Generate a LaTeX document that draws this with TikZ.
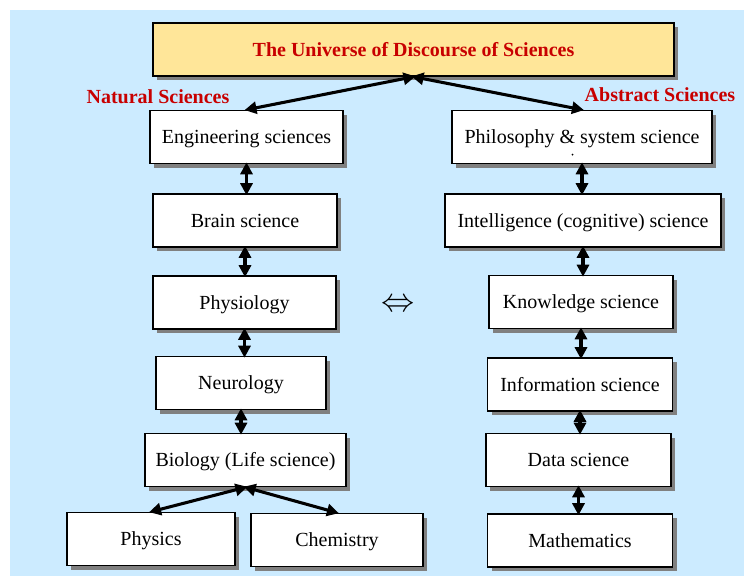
\documentclass[tikz,border=0pt]{standalone}
\usepackage{fontspec}
\setmainfont{Liberation Serif}
\usetikzlibrary{arrows.meta,shadows}

\definecolor{bgblue}{RGB}{204,235,255}
\definecolor{titleyellow}{RGB}{255,230,153}
\definecolor{labelred}{RGB}{200,0,0}
\definecolor{shadowgray}{RGB}{128,128,128}

\tikzset{every picture/.style={line width=0.75pt}}
\tikzset{
  scibox/.style={draw=black, fill=white, line width=1.2pt, minimum height=39.75pt,
    inner sep=0pt, text height=12pt, text depth=1.7pt, font=\fontsize{15}{18}\selectfont,
    drop shadow={shadow xshift=3pt, shadow yshift=-3pt, fill=shadowgray, opacity=1}},
  titlebox/.style={scibox, fill=titleyellow, text=labelred, font=\fontsize{15}{18}\selectfont\bfseries},
  sidelabel/.style={text=labelred, font=\fontsize{15}{18}\selectfont\bfseries, inner sep=0pt},
  dbl/.style={{Triangle[length=9pt,width=9pt]}-{Triangle[length=9pt,width=9pt]}, line width=2.3pt,
    shorten <=-1.5pt, shorten >=-1.5pt}
}

\begin{document}
\begin{tikzpicture}[x=0.75pt,y=0.75pt,yscale=-1,xscale=1]
\useasboundingbox (0,0) rectangle (744,576);
%Background
\fill [bgblue] (10,10) rectangle (744,576);

%Title and side labels
\node [titlebox, minimum width=390.75pt] (univ) at (413.5,49.5) {The Universe of Discourse of Sciences};
\node [sidelabel] (natural) at (158,97) {Natural Sciences};
\node [sidelabel] (abstract) at (660,95) {Abstract Sciences};

%Left column
\node [scibox, minimum width=144.75pt] (eng) at (246.5,137) {Engineering sciences};
\node [scibox, minimum width=138pt] (brain) at (245,220.5) {Brain science};
\node [scibox, minimum width=137.25pt] (physio) at (244.5,302.5) {Physiology};
\node [scibox, minimum width=127.5pt] (neuro) at (241,383) {Neurology};
\node [scibox, minimum width=150.75pt] (bio) at (245.5,460) {Biology (Life science)};
\node [scibox, minimum width=126pt] (physics) at (151,539) {Physics};
\node [scibox, minimum width=129pt] (chem) at (337,540) {Chemistry};

%Right column
\node [scibox, minimum width=195pt] (philo) at (582,137) {Philosophy \& system science};
\node [scibox, minimum width=207pt] (intel) at (583,220.5) {Intelligence (cognitive) science};
\node [scibox, minimum width=138pt] (know) at (581,302) {Knowledge science};
\node [scibox, minimum width=138.75pt] (info) at (580,384.5) {Information science};
\node [scibox, minimum width=138.75pt] (data) at (578.5,460) {Data science};
\node [scibox, minimum width=138.75pt] (math) at (580,540.5) {Mathematics};
\fill (572.5,154.5) circle (1);

%Equivalence sign
\node [inner sep=0pt, font=\fontsize{24}{24}\selectfont] (equiv) at (398,305.5) {$\Leftrightarrow$};

%Connectors
\draw [dbl] (univ.south) -- (eng.north);
\draw [dbl] (univ.south) -- (philo.north);
\draw [dbl] (eng.south) -- (eng.south |- brain.north);
\draw [dbl] (brain.south) -- (brain.south |- physio.north);
\draw [dbl] (physio.south) -- (physio.south |- neuro.north);
\draw [dbl] (neuro.south) -- (neuro.south |- bio.north);
\draw [dbl] (bio.south) -- (physics.north);
\draw [dbl] (bio.south) -- (chem.north);
\draw [dbl] (philo.south) -- (philo.south |- intel.north);
\draw [dbl] (intel.south) -- (intel.south |- know.north);
\draw [dbl] (know.south) -- (know.south |- info.north);
\draw [dbl] (info.south) -- (info.south |- data.north);
\draw [dbl] (data.south) -- (data.south |- math.north);

\end{tikzpicture}
\end{document}
